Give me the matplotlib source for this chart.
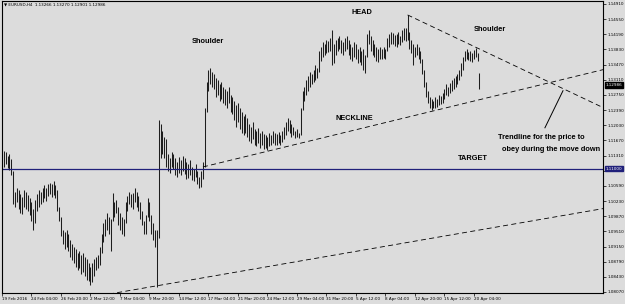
import matplotlib.pyplot as plt

# EURUSD H4, 19 Feb - 20 Apr 2016
symbol_info = "EURUSD,H4  1.13266 1.13270 1.12901 1.12986"
last_close = 1.12986
target_level = 1.11000

bar_high = [
    1.1135, 1.1143, 1.1140, 1.1131, 1.1135, 1.1123, 1.1095, 1.1045, 1.1055, 1.1050,
    1.1040, 1.1033, 1.1050, 1.1045, 1.1037, 1.1030, 1.1020, 1.1005, 1.1025, 1.1040,
    1.1050, 1.1045, 1.1055, 1.1060, 1.1053, 1.1063, 1.1067, 1.1063, 1.1070, 1.1060,
    1.1050, 1.1010, 1.0985, 1.0955, 1.0950, 1.0955, 1.0945, 1.0930, 1.0920, 1.0915,
    1.0910, 1.0900, 1.0905, 1.0895, 1.0900, 1.0890, 1.0885, 1.0875, 1.0867, 1.0875,
    1.0885, 1.0890, 1.0895, 1.0915, 1.0945, 1.0970, 1.0980, 1.0995, 1.0985, 1.0980,
    1.1043, 1.1020, 1.1025, 1.1010, 1.0995, 1.0985, 1.0980, 1.1020, 1.1035, 1.1045,
    1.1040, 1.1043, 1.1055, 1.1045, 1.1035, 1.1020, 1.1000, 1.0975, 1.0990, 1.1031,
    1.1020, 1.0990, 1.0970, 1.0955, 1.0955, 1.1215, 1.1205, 1.1190, 1.1175, 1.1170,
    1.1135, 1.1125, 1.1140, 1.1135, 1.1125, 1.1115, 1.1127, 1.1120, 1.1130, 1.1125,
    1.1115, 1.1110, 1.1120, 1.1105, 1.1100, 1.1110, 1.1095, 1.1080, 1.1095, 1.1115,
    1.1245, 1.1305, 1.1335, 1.1339, 1.1330, 1.1325, 1.1315, 1.1310, 1.1300, 1.1305,
    1.1295, 1.1290, 1.1285, 1.1293, 1.1275, 1.1270, 1.1260, 1.1250, 1.1255, 1.1245,
    1.1235, 1.1225, 1.1230, 1.1220, 1.1205, 1.1200, 1.1210, 1.1195, 1.1190, 1.1197,
    1.1185, 1.1190, 1.1183, 1.1180, 1.1175, 1.1185, 1.1180, 1.1190, 1.1185, 1.1183,
    1.1187, 1.1181, 1.1190, 1.1200, 1.1210, 1.1221, 1.1215, 1.1205, 1.1200, 1.1190,
    1.1195, 1.1185, 1.1245, 1.1285, 1.1295, 1.1310, 1.1320, 1.1330, 1.1325, 1.1335,
    1.1345, 1.1340, 1.1380, 1.1390, 1.1400, 1.1395, 1.1405, 1.1403, 1.1410, 1.1430,
    1.1395, 1.1405, 1.1410, 1.1415, 1.1405, 1.1400, 1.1410, 1.1415, 1.1405, 1.1395,
    1.1390, 1.1400, 1.1395, 1.1385, 1.1390, 1.1380, 1.1385, 1.1370, 1.1420, 1.1430,
    1.1415, 1.1405, 1.1395, 1.1390, 1.1385, 1.1390, 1.1385, 1.1390, 1.1385, 1.1410,
    1.1420, 1.1425, 1.1423, 1.1417, 1.1420, 1.1425, 1.1415, 1.1430, 1.1435, 1.1433,
    1.1465, 1.1425, 1.1405, 1.1395, 1.1390, 1.1395, 1.1390, 1.1380, 1.1360, 1.1335,
    1.1305, 1.1285, 1.1270, 1.1265, 1.1260, 1.1270, 1.1265, 1.1275, 1.1273, 1.1280,
    1.1290, 1.1300, 1.1295, 1.1303, 1.1310, 1.1315, 1.1320, 1.1325, 1.1335, 1.1350,
    1.1365, 1.1380, 1.1383, 1.1377, 1.1380, 1.1375, 1.1381, 1.1387, 1.1375, 1.1327,
]

bar_low = [
    1.1077, 1.1105, 1.1110, 1.1101, 1.1097, 1.1085, 1.1015, 1.1010, 1.1020, 1.1005,
    1.0995, 1.0993, 1.1010, 1.1005, 1.1000, 1.0990, 1.0975, 1.0955, 1.0970, 1.1000,
    1.1010, 1.1015, 1.1020, 1.1030, 1.1023, 1.1035, 1.1040, 1.1033, 1.1037, 1.1030,
    1.1000, 1.0975, 1.0940, 1.0920, 1.0910, 1.0915, 1.0905, 1.0890, 1.0883, 1.0875,
    1.0867, 1.0860, 1.0865, 1.0850, 1.0855, 1.0845, 1.0835, 1.0833, 1.0823, 1.0830,
    1.0845, 1.0860, 1.0865, 1.0870, 1.0900, 1.0925, 1.0940, 1.0955, 1.0945, 1.0905,
    1.0975, 1.0985, 1.0995, 1.0965, 1.0955, 1.0945, 1.0940, 1.0970, 1.1000, 1.1015,
    1.1010, 1.1005, 1.1020, 1.1010, 1.1000, 1.0980, 1.0965, 1.0945, 1.0945, 1.0985,
    1.0975, 1.0945, 1.0930, 1.0915, 1.0819, 1.0935, 1.1125, 1.1135, 1.1125, 1.1105,
    1.1095, 1.1090, 1.1105, 1.1100, 1.1085, 1.1080, 1.1090, 1.1085, 1.1095, 1.1087,
    1.1075, 1.1077, 1.1085, 1.1073, 1.1070, 1.1080, 1.1063, 1.1055, 1.1057, 1.1075,
    1.1105, 1.1235, 1.1285, 1.1300, 1.1295, 1.1290, 1.1270, 1.1275, 1.1260, 1.1265,
    1.1255, 1.1250, 1.1245, 1.1255, 1.1235, 1.1230, 1.1215, 1.1200, 1.1210, 1.1195,
    1.1185, 1.1180, 1.1185, 1.1175, 1.1165, 1.1160, 1.1170, 1.1155, 1.1153, 1.1160,
    1.1150, 1.1155, 1.1147, 1.1150, 1.1145, 1.1153, 1.1155, 1.1160, 1.1157, 1.1155,
    1.1160, 1.1155, 1.1163, 1.1170, 1.1180, 1.1190, 1.1185, 1.1175, 1.1180, 1.1173,
    1.1175, 1.1173, 1.1180, 1.1240, 1.1260, 1.1275, 1.1285, 1.1295, 1.1300, 1.1305,
    1.1310, 1.1315, 1.1330, 1.1355, 1.1365, 1.1370, 1.1375, 1.1377, 1.1380, 1.1345,
    1.1350, 1.1370, 1.1380, 1.1385, 1.1375, 1.1370, 1.1380, 1.1385, 1.1370, 1.1360,
    1.1355, 1.1365, 1.1360, 1.1350, 1.1353, 1.1345, 1.1335, 1.1328, 1.1365, 1.1395,
    1.1380, 1.1370, 1.1365, 1.1355, 1.1353, 1.1360, 1.1360, 1.1363, 1.1360, 1.1380,
    1.1390, 1.1395, 1.1397, 1.1391, 1.1390, 1.1395, 1.1393, 1.1400, 1.1405, 1.1403,
    1.1405, 1.1385, 1.1375, 1.1346, 1.1365, 1.1370, 1.1360, 1.1350, 1.1325, 1.1295,
    1.1270, 1.1255, 1.1245, 1.1240, 1.1243, 1.1245, 1.1247, 1.1250, 1.1253, 1.1255,
    1.1265, 1.1275, 1.1273, 1.1280, 1.1285, 1.1290, 1.1295, 1.1300, 1.1310, 1.1320,
    1.1335, 1.1355, 1.1360, 1.1357, 1.1355, 1.1353, 1.1360, 1.1365, 1.1355, 1.1290,
]

date_labels = ["19 Feb 2016", "24 Feb 04:00", "26 Feb 20:00", "2 Mar 12:00",
               "7 Mar 04:00", "9 Mar 20:00", "14 Mar 12:00", "17 Mar 04:00",
               "21 Mar 20:00", "24 Mar 12:00", "29 Mar 04:00", "31 Mar 20:00",
               "5 Apr 12:00", "8 Apr 04:00", "12 Apr 20:00", "15 Apr 12:00",
               "20 Apr 04:00"]
price_ticks = [1.14910, 1.14550, 1.14190, 1.13830, 1.13470, 1.13110, 1.12750,
               1.12390, 1.12030, 1.11670, 1.11310, 1.10950, 1.10590, 1.10230,
               1.09870, 1.09510, 1.09150, 1.08790, 1.08430, 1.08070]

# trendlines drawn on the chart: (bar index, price) pairs
neckline = ([109, 326], [1.1104, 1.1335])
downtrend = ([220, 326], [1.1465, 1.1245])
lower_channel = ([58, 326], [1.0802, 1.1005])
pointer = ([294.5, 304.3], [1.1197, 1.1285])

bg = '#dcdcdc'
fig = plt.figure(figsize=(6.25, 3.04), dpi=100, facecolor=bg)
ax = fig.add_axes([2 / 625, 11 / 304, 601 / 625, 292 / 304], facecolor=bg)

idx = list(range(len(bar_high)))
ax.vlines(idx, bar_low, bar_high, color='#1e1e1e', lw=0.75)

ax.axhline(target_level, color='#20207a', lw=0.9)
for xs, ys in (neckline, downtrend, lower_channel):
    ax.plot(xs, ys, color='black', lw=0.6, ls=(0, (6, 4)))
ax.plot(pointer[0], pointer[1], color='black', lw=0.7)

ax.set_xlim(0, 326)
ax.set_ylim(1.08046, 1.14981)

ax.yaxis.tick_right()
ax.set_yticks(price_ticks)
ax.set_yticklabels(['%.5f' % p for p in price_ticks])
ax.set_xticks(range(0, 16 * len(date_labels), 16))
ax.set_xticklabels(date_labels, ha='left')
ax.tick_params(axis='both', labelsize=3.0, length=2, width=0.5, pad=1, colors='black')
for s in ax.spines.values():
    s.set_linewidth(0.8)
    s.set_color('black')

# price boxes on the right scale
for level, box in ((last_close, 'black'), (target_level, '#20207a')):
    ax.annotate('%.5f' % level, xy=(1.0, level), xycoords=('axes fraction', 'data'),
                xytext=(2, 0), textcoords='offset points', va='center', ha='left',
                fontsize=3.0, color='white', annotation_clip=False,
                bbox=dict(boxstyle='square,pad=0.2', fc=box, ec=box))

fig.text(4 / 625, 1 - 5 / 304, '\u25bc ' + symbol_info, fontsize=3.0, va='center', ha='left')

txt = dict(fontsize=5.3, fontweight='bold', family='Liberation Sans', transform=ax.transAxes,
           va='center', clip_on=False)
ax.text(0.599, 0.962, 'HEAD', ha='center', **txt)
ax.text(0.343, 0.860, 'Shoulder', ha='center', **txt)
ax.text(0.812, 0.901, 'Shoulder', ha='center', **txt)
ax.text(0.587, 0.599, 'NECKLINE', ha='center', **txt)
ax.text(0.784, 0.459, 'TARGET', ha='center', **txt)
ax.text(0.825, 0.534, 'Trendline for the price to', ha='left', **txt)
ax.text(0.832, 0.490, 'obey during the move down', ha='left', **txt)

fig.savefig('out.png', dpi=100, facecolor=bg)
